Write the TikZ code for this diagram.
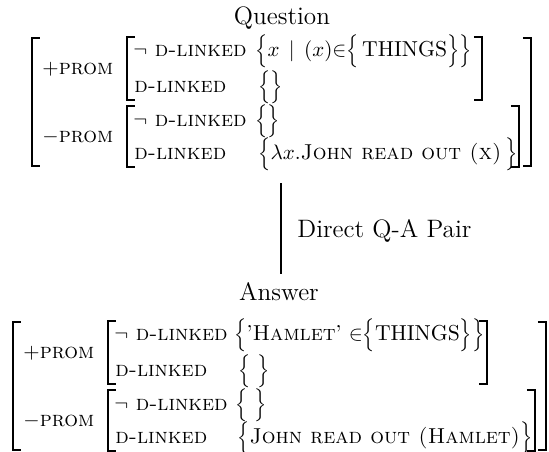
\documentclass[tikz,border=0pt]{standalone}
\usepackage{amsmath}
\usepackage{graphicx}
\newcommand{\Lb}{\mathopen{\vcenter{\hbox{\resizebox*{!}{15.7pt}{$\mathchar"036E$}}}}}
\newcommand{\Rb}{\mathclose{\vcenter{\hbox{\resizebox*{!}{15.7pt}{$\mathchar"036F$}}}}}
\newcommand{\ndl}{$\neg$\hspace{3.5pt}\textsc{d-linked}}
\begin{document}
\begin{tikzpicture}[x=0.47619pt,y=-0.47619pt]
\useasboundingbox (0,0) rectangle (549,452);
\tikzset{
  ttl/.style={inner sep=0pt, font=\large},
  txt/.style={inner sep=0pt, anchor=west, font=\fontsize{10.3}{12.4}\selectfont},
  brk/.style={line width=0.85pt},
  link/.style={line width=0.85pt}}
% titles
\node[ttl, anchor=base] (q) at (282,24) {Question};
\node[ttl, anchor=base] (a) at (279,300) {Answer};
\node[ttl, anchor=base west] (lab) at (297,237) {Direct Q-A Pair};
% connector
\coordinate (lt) at (281,183);
\coordinate (lb) at (281,274);
\draw[link] (lt) -- (lb);
% ---------- Question AVM ----------
\draw[brk] (40,38) -| (32,166) -- (40,166);
\draw[brk] (523,38) -| (531,166) -- (523,166);
\draw[brk] (135,37) -| (127,100) -- (135,100);
\draw[brk] (474,37) -| (482,100) -- (474,100);
\draw[brk] (135,106) -| (127,167) -- (135,167);
\draw[brk] (511,106) -| (519,167) -- (511,167);
\node[txt] (qp) at (42,69) {$+\textsc{prom}$};
\node[txt] (qm) at (42,137) {$-\textsc{prom}$};
\node[txt] (q1a) at (133,51) {\ndl};
\node[txt] (q1b) at (255,51) {$\Lb x \,\mid\, (x){\in}\Lb\,\text{THINGS}\Rb\Rb$};
\node[txt] (q2a) at (134,87) {\textsc{d-linked}};
\node[txt] (q2b) at (258,87) {$\Lb\Rb$};
\node[txt] (q3a) at (133,121) {\ndl};
\node[txt] (q3b) at (255,121) {$\Lb\Rb$};
\node[txt] (q4a) at (134,154) {\textsc{d-linked}};
\node[txt] (q4b) at (258,154) {$\Lb\lambda x.\text{\textsc{John read out (x)}}\,\Rb$};
% ---------- Answer AVM ----------
\draw[brk] (21,322) -| (13,450) -- (21,450);
\draw[brk] (538,322) -| (546,450) -- (538,450);
\draw[brk] (116,321) -| (108,384) -- (116,384);
\draw[brk] (479,321) -| (487,384) -- (479,384);
\draw[brk] (116,390) -| (108,451) -- (116,451);
\draw[brk] (527,390) -| (535,451) -- (527,451);
\node[txt] (ap) at (23,353) {$+\textsc{prom}$};
\node[txt] (am) at (23,421) {$-\textsc{prom}$};
\node[txt] (a1a) at (114,335) {\ndl};
\node[txt] (a1b) at (234,335) {$\Lb\text{'\textsc{Hamlet}'}\ {\in}\Lb\text{THINGS}\Rb\Rb$};
\node[txt] (a2a) at (115,371) {\textsc{d-linked}};
\node[txt] (a2b) at (238,371) {$\Lb\ \Rb$};
\node[txt] (a3a) at (114,405) {\ndl};
\node[txt] (a3b) at (235,405) {$\Lb\ \Rb$};
\node[txt] (a4a) at (115,438) {\textsc{d-linked}};
\node[txt] (a4b) at (237,438) {$\Lb\text{\textsc{John read out (Hamlet)}}\Rb$};
\end{tikzpicture}
\end{document}
